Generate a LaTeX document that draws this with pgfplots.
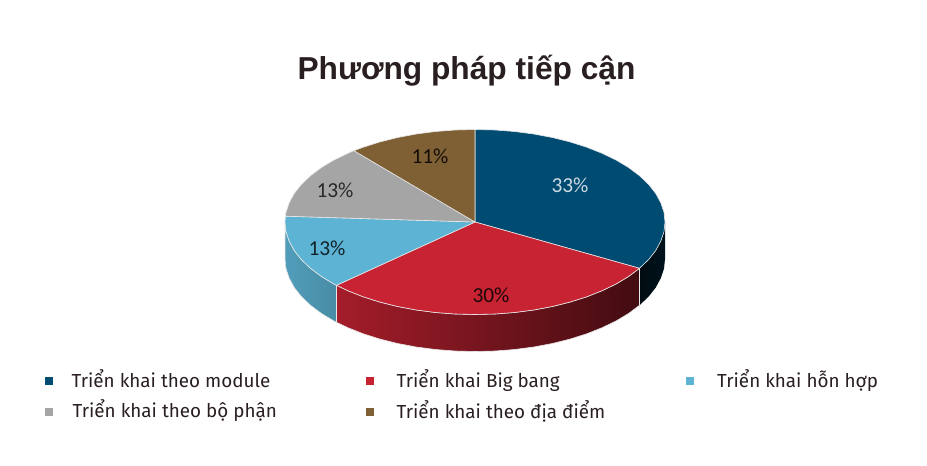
\documentclass[border=0pt]{standalone}
\usepackage{fontspec}
\usepackage{pgfplots}
\pgfplotsset{compat=1.18}
\setmainfont{Fira Sans}
\newfontfamily\titlefont{Liberation Sans}
\newfontfamily\pctfont{Carlito}
\definecolor{cblue}{HTML}{004B71}
\definecolor{cred}{HTML}{C82333}
\definecolor{clight}{HTML}{5CB3D3}
\definecolor{cgray}{HTML}{A5A5A5}
\definecolor{cbrown}{HTML}{7F6035}
\definecolor{ink}{HTML}{2A1F20}
\begin{document}
\begin{tikzpicture}
\begin{axis}[
    width=927pt, height=466pt, scale only axis,
    xmin=0, xmax=927, ymin=0, ymax=466,
    y dir=reverse,
    hide axis,
    clip=false,
    every axis plot/.append style={line join=round},
    legendmark/.style={only marks, mark=square*, mark size=3.8pt, mark options={draw=#1, fill=#1, line width=0pt}},
    edge/.style={draw=white!82!gray, line width=0.6pt},
]
% page frame, the axis itself is hidden
\path (axis cs:0,0) rectangle (axis cs:927,466);
% sides
\addplot[edge, shade, left color=black!85!cblue, right color=black!75!cblue, draw=none] coordinates {
    (665,222) (664,231.7) (660.8,241.2) (655.7,250.6) (648.6,259.6) (639.5,268.3)
    (639.5,305.3) (648.6,296.6) (655.7,287.6) (660.8,278.2) (664,268.7) (665,259)
} --cycle;
\addplot[edge, shade, left color=cred!82!black, middle color=cred!47!black, right color=cred!33!black] coordinates {
    (639.5,268.3) (628.7,276.4) (616.2,283.9) (602.1,290.7) (586.7,296.8) (570,302.1)
    (552.3,306.5) (533.7,310) (514.5,312.5) (494.9,314) (475,314.5) (455.1,314)
    (435.5,312.5) (416.3,310) (397.7,306.5) (380,302.1) (363.3,296.8) (347.9,290.7) (336.5,285.3)
    (336.5,322.3) (347.9,327.7) (363.3,333.8) (380,339.1) (397.7,343.5) (416.3,347)
    (435.5,349.5) (455.1,351) (475,351.5) (494.9,351) (514.5,349.5) (533.7,347)
    (552.3,343.5) (570,339.1) (586.7,333.8) (602.1,327.7) (616.2,320.9) (628.7,313.4) (639.5,305.3)
} --cycle;
\addplot[edge, shade, left color=clight!88!black, right color=clight!78!black] coordinates {
    (336.5,285.3) (333.8,283.9) (321.3,276.4) (310.5,268.3) (301.4,259.6) (294.3,250.6)
    (289.2,241.2) (286,231.7) (285,222)
    (285,259) (286,268.7) (289.2,278.2) (294.3,287.6) (301.4,296.6) (310.5,305.3)
    (321.3,313.4) (333.8,320.9) (336.5,322.3)
} --cycle;
% top wedges
\addplot[edge, fill=cblue] coordinates {
    (475,222) (475,129.5) (494.9,130) (514.5,131.5) (533.7,134) (552.3,137.5) (570,141.9)
    (586.7,147.2) (602.1,153.3) (616.2,160.1) (628.7,167.6) (639.5,175.7) (648.6,184.4)
    (655.7,193.4) (660.8,202.8) (664,212.3) (665,222) (664,231.7) (660.8,241.2)
    (655.7,250.6) (648.6,259.6) (639.5,268.3)
} --cycle;
\addplot[edge, fill=cred] coordinates {
    (475,222) (639.5,268.3) (628.7,276.4) (616.2,283.9) (602.1,290.7) (586.7,296.8) (570,302.1)
    (552.3,306.5) (533.7,310) (514.5,312.5) (494.9,314) (475,314.5) (455.1,314)
    (435.5,312.5) (416.3,310) (397.7,306.5) (380,302.1) (363.3,296.8) (347.9,290.7) (336.5,285.3)
} --cycle;
\addplot[edge, fill=clight] coordinates {
    (475,222) (336.5,285.3) (333.8,283.9) (321.3,276.4) (310.5,268.3) (301.4,259.6) (294.3,250.6)
    (289.2,241.2) (286,231.7) (285,222) (285.4,216.2)
} --cycle;
\addplot[edge, fill=cgray] coordinates {
    (475,222) (285.4,216.2) (286,212.3) (289.2,202.8) (294.3,193.4) (301.4,184.4)
    (310.5,175.7) (321.3,167.6) (333.8,160.1) (347.9,153.3) (353.9,150.7)
} --cycle;
\addplot[edge, fill=cbrown] coordinates {
    (475,222) (353.9,150.7) (363.3,147.2) (380,141.9) (397.7,137.5) (416.3,134)
    (435.5,131.5) (455.1,130) (475,129.5)
} --cycle;
% value labels
\tikzset{pct/.style={font=\pctfont\fontsize{21.4}{21.4}\selectfont}}
\node[pct, text=white!80!cblue] at (axis cs:570,185) {33\%};
\node[pct, text=black!85!cred] at (axis cs:491,295) {30\%};
\node[pct, text=black!80!clight] at (axis cs:327,248) {13\%};
\node[pct, text=black!75!cgray] at (axis cs:335,190) {13\%};
\node[pct, text=black!85!cbrown] at (axis cs:430,156) {11\%};
% title
\node[font=\titlefont\bfseries\fontsize{31.7}{31.7}\selectfont, text=ink] at (axis cs:466.5,71) {Phương pháp tiếp cận};
% legend
\addplot[legendmark=cblue] coordinates {(49,381)};
\addplot[legendmark=cred] coordinates {(370,381)};
\addplot[legendmark=clight] coordinates {(690,381)};
\addplot[legendmark=cgray] coordinates {(49,412)};
\addplot[legendmark=cbrown] coordinates {(370,412)};
\tikzset{lg/.style={anchor=base west, inner sep=0pt, text=ink, font=\fontsize{18.85}{18.85}\selectfont}}
\node[lg] at (axis cs:71.5,387) {Triển khai theo module};
\node[lg] at (axis cs:396.5,387) {Triển khai Big bang};
\node[lg] at (axis cs:717,387) {Triển khai hỗn hợp};
\node[lg] at (axis cs:72.5,417) {Triển khai theo bộ phận};
\node[lg] at (axis cs:396.5,418) {Triển khai theo địa điểm};
\end{axis}
\end{tikzpicture}
\end{document}
